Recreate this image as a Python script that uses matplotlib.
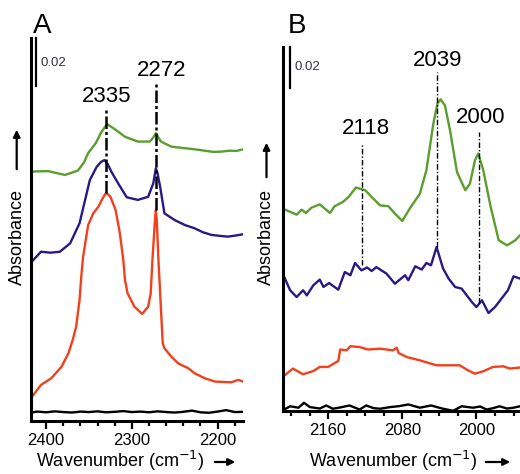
import numpy as np
import matplotlib
matplotlib.use('Agg')
import matplotlib.pyplot as plt
from matplotlib.ticker import MultipleLocator, NullLocator

plt.rcParams['font.family'] = ['Liberation Sans', 'DejaVu Sans']

# ---------------- panel A data (wavenumber, absorbance) ----------------
a_green_x = [2418, 2398, 2378, 2363, 2356, 2351, 2342, 2336, 2329, 2320, 2308, 2293, 2279, 2275, 2272,
             2269, 2266, 2254, 2240, 2227, 2215, 2205, 2196, 2186, 2178, 2170]
a_green_y = [0.1038, 0.1040, 0.1024, 0.1042, 0.1075, 0.1115, 0.1157, 0.1200, 0.1236, 0.1215, 0.1183,
             0.1163, 0.1163, 0.1180, 0.1198, 0.1180, 0.1163, 0.1142, 0.1136, 0.1131, 0.1125, 0.1120,
             0.1121, 0.1125, 0.1124, 0.1131]

a_blue_x = [2418, 2406, 2395, 2384, 2372, 2361, 2349, 2341, 2336, 2332, 2328, 2324, 2316, 2306, 2293,
            2281, 2275, 2272, 2270, 2267, 2262, 2250, 2238, 2227, 2217, 2207, 2197, 2188, 2178, 2170]
a_blue_y = [0.0658, 0.0704, 0.0700, 0.0704, 0.0739, 0.0823, 0.1003, 0.1058, 0.1078, 0.1086, 0.1068,
            0.1038, 0.0989, 0.0931, 0.0920, 0.0933, 0.0989, 0.1052, 0.1030, 0.0975, 0.0864, 0.0836,
            0.0815, 0.0802, 0.0785, 0.0774, 0.0770, 0.0767, 0.0772, 0.0777]

a_red_x = [2418, 2406, 2394, 2382, 2374, 2369, 2365, 2361, 2359, 2357, 2351, 2345, 2339, 2334, 2330,
           2325, 2319, 2314, 2310, 2308, 2305, 2297, 2288, 2281, 2278, 2276, 2273, 2272, 2271, 2269,
           2266, 2264, 2262, 2254, 2246, 2234, 2227, 2215, 2203, 2184, 2176, 2170]
a_red_y = [0.0093, 0.0149, 0.0177, 0.0225, 0.0281, 0.0336, 0.0392, 0.0503, 0.0600, 0.0680, 0.0815,
           0.0864, 0.0892, 0.0927, 0.0950, 0.0933, 0.0878, 0.0781, 0.0670, 0.0586, 0.0531, 0.0475,
           0.0445, 0.0475, 0.0531, 0.0670, 0.0840, 0.0878, 0.0840, 0.0670, 0.0461, 0.0323, 0.0302,
           0.0267, 0.0239, 0.0218, 0.0198, 0.0177, 0.0163, 0.0160, 0.0170, 0.0163]

a_black_x = [2418, 2410, 2400, 2390, 2380, 2370, 2360, 2350, 2340, 2330, 2320, 2310, 2300, 2290, 2280,
             2270, 2260, 2250, 2240, 2230, 2220, 2210, 2200, 2190, 2180, 2170]
a_black_y = [0.0034, 0.0038, 0.0035, 0.0039, 0.0036, 0.0034, 0.0038, 0.0036, 0.0039, 0.0035, 0.0037,
             0.0040, 0.0036, 0.0038, 0.0035, 0.0039, 0.0036, 0.0034, 0.0037, 0.0042, 0.0035, 0.0033,
             0.0038, 0.0044, 0.0036, 0.0037]

a_peak_pos = [2330, 2272]
a_peak_top = [0.1295, 0.1403]
a_peak_bot = [0.0950, 0.0878]
a_peak_text = ['2335', '2272']
a_text_x = [2330, 2265]
a_text_y = [0.1349, 0.1461]

# ---------------- panel B data ----------------
b_green_x = [2209, 2194, 2188.5, 2184, 2178, 2169, 2158, 2153, 2144, 2138, 2130, 2120, 2113, 2104, 2095,
             2088, 2080, 2072, 2061, 2054, 2046.5, 2042, 2038.6, 2034, 2028.5, 2021, 2012, 2007, 2001.6,
             1998, 1992.6, 1985, 1976, 1967, 1958, 1953]
b_green_y = [0.0987, 0.0958, 0.0982, 0.0966, 0.0992, 0.1008, 0.0966, 0.0999, 0.1020, 0.1044, 0.1090,
             0.1077, 0.1044, 0.1003, 0.0999, 0.0963, 0.0927, 0.0987, 0.1060, 0.1174, 0.1402, 0.1500,
             0.1520, 0.1491, 0.1369, 0.1166, 0.1077, 0.1109, 0.1223, 0.1256, 0.1174, 0.1003, 0.0833,
             0.0808, 0.0833, 0.0857]

b_blue_x = [2209, 2201, 2194, 2187, 2183, 2176, 2169, 2165, 2159, 2149, 2142, 2136, 2131, 2124, 2118,
            2113, 2108, 2097, 2088, 2077, 2073.5, 2066, 2059, 2054, 2049, 2043, 2036, 2030, 2023, 2016,
            2005, 2000, 1994, 1987, 1980, 1973, 1966, 1960, 1953]
b_blue_y = [0.0670, 0.0589, 0.0556, 0.0589, 0.0564, 0.0613, 0.0641, 0.0605, 0.0624, 0.0592, 0.0678,
            0.0662, 0.0722, 0.0686, 0.0700, 0.0683, 0.0702, 0.0670, 0.0621, 0.0662, 0.0638, 0.0706,
            0.0690, 0.0722, 0.0711, 0.0800, 0.0695, 0.0646, 0.0605, 0.0597, 0.0532, 0.0507, 0.0540,
            0.0478, 0.0507, 0.0548, 0.0589, 0.0657, 0.0646]

b_red_x = [2209, 2198, 2187, 2176, 2169, 2160, 2154, 2149, 2147, 2140, 2136, 2126, 2117, 2104, 2090,
           2086, 2084, 2075, 2061, 2043, 2018, 2010.5, 2001.6, 1992.6, 1982, 1971, 1964, 1953]
b_red_y = [0.0166, 0.0207, 0.0179, 0.0195, 0.0215, 0.0215, 0.0231, 0.0244, 0.0300, 0.0296, 0.0316,
           0.0312, 0.0300, 0.0304, 0.0296, 0.0309, 0.0283, 0.0263, 0.0247, 0.0223, 0.0223, 0.0202,
           0.0182, 0.0194, 0.0215, 0.0218, 0.0207, 0.0212]

b_black_x = [2209, 2201, 2192, 2186, 2179.6, 2169, 2162, 2155, 2146, 2137, 2126, 2119, 2111, 2104, 2093,
             2083, 2073.5, 2061, 2049, 2036, 2025, 2016, 2003.6, 1996, 1989, 1982, 1975, 1967, 1960, 1953]
b_black_y = [0.0003, 0.0023, 0.0016, 0.0040, 0.0019, 0.0012, 0.0027, 0.0011, 0.0018, 0.0027, 0.0007,
             0.0027, 0.0014, 0.0011, 0.0019, 0.0024, 0.0032, 0.0016, 0.0027, 0.0011, 0.0001, 0.0023,
             0.0016, 0.0022, 0.0007, 0.0014, 0.0023, 0.0012, 0.0016, 0.0023]

b_peak_pos = [2123, 2043, 1997.4]
b_peak_top = [0.1304, 0.1654, 0.1361]
b_peak_bot = [0.0711, 0.0800, 0.0525]
b_peak_text = ['2118', '2039', '2000']
b_text_x = [2119, 2042, 1996]
b_text_y = [0.1379, 0.1711, 0.1434]

green = '#5a9e2f'
blue = '#2b1887'
red = '#f2401c'

W, H = 520, 474
fig = plt.figure(figsize=(W / 100, H / 100), dpi=100)


def fx(px):
    return px / W


def fy(py):
    return 1 - py / H


def style_axes(ax):
    for s in ['top', 'right']:
        ax.spines[s].set_visible(False)
    for s in ['left', 'bottom']:
        ax.spines[s].set_linewidth(2.2)
    ax.yaxis.set_major_locator(NullLocator())
    ax.tick_params(axis='x', which='major', direction='out', length=6, width=1.6,
                   labelsize=12, pad=2.5)
    ax.tick_params(axis='x', which='minor', direction='out', length=3.8, width=1.6)


# panel A
axA = fig.add_axes([fx(30.7), fy(420.7), fx(243.3 - 30.7), (420.7 - 38) / H])
axA.set_xlim(2418, 2170)
axA.set_ylim(0, (420.7 - 38) / 2400)
style_axes(axA)
axA.xaxis.set_major_locator(MultipleLocator(100))
axA.xaxis.set_minor_locator(MultipleLocator(20))
axA.plot(a_green_x, a_green_y, color=green, lw=1.7)
axA.plot(a_blue_x, a_blue_y, color=blue, lw=1.7)
axA.plot(a_red_x, a_red_y, color=red, lw=1.7)
axA.plot(a_black_x, a_black_y, color='black', lw=1.7)
for p, t, b in zip(a_peak_pos, a_peak_top, a_peak_bot):
    axA.plot([p, p], [b, t], color='black', lw=1.8, ls=(0, (5, 1.2, 1.2, 1.2)))
for tx, ty, s in zip(a_text_x, a_text_y, a_peak_text):
    axA.text(tx, ty, s, ha='center', va='center', fontsize=16)
axA.plot([2412, 2412], [0.1395, 0.1595], color='black', lw=1.6, clip_on=False)
axA.text(2407, 0.149, '0.02', fontsize=9.5, color='#333340', va='center', ha='left')

# panel B
axB = fig.add_axes([fx(282.7), fy(411), fx(520 - 282.7), (411 - 46.7) / H])
axB.set_xlim(2209, 1953)
axB.set_ylim(0, (411 - 46.7) / 2050)
style_axes(axB)
axB.xaxis.set_major_locator(MultipleLocator(80))
axB.xaxis.set_minor_locator(MultipleLocator(20))
axB.plot(b_green_x, b_green_y, color=green, lw=1.7)
axB.plot(b_blue_x, b_blue_y, color=blue, lw=1.7)
axB.plot(b_red_x, b_red_y, color=red, lw=1.7)
axB.plot(b_black_x, b_black_y, color='black', lw=1.7)
for p, t, b in zip(b_peak_pos, b_peak_top, b_peak_bot):
    axB.plot([p, p], [b, t], color='black', lw=1.0, ls=(0, (4, 1.5, 1, 1.5)))
for tx, ty, s in zip(b_text_x, b_text_y, b_peak_text):
    axB.text(tx, ty, s, ha='center', va='center', fontsize=16)
axB.plot([2201, 2201], [0.1577, 0.1777], color='black', lw=1.6, clip_on=False)
axB.text(2196, 0.1677, '0.02', fontsize=9.5, color='#333340', va='center', ha='left')

# panel letters
fig.text(fx(33), fy(33), 'A', fontsize=20, ha='left', va='baseline')
fig.text(fx(288), fy(33), 'B', fontsize=20, ha='left', va='baseline')

# axis titles with arrows
for cx, ax_x, top, bot in [(17, 16.7, 127, 172), (266, 266.5, 140, 180)]:
    fig.text(fx(cx), fy(237), 'Absorbance', rotation=90, ha='center', va='center', fontsize=13)
    fig.add_artist(matplotlib.patches.FancyArrowPatch(
        (fx(ax_x), fy(bot)), (fx(ax_x), fy(top)), transform=fig.transFigure,
        arrowstyle='-|>', mutation_scale=10, lw=1.6, color='black'))

for cx, y, x0, x1 in [(120.5, 461, 212, 238), (393.5, 461, 483, 513)]:
    fig.text(fx(cx), fy(y), 'Wavenumber (cm$^{-1}$)', ha='center', va='center', fontsize=13)
    fig.add_artist(matplotlib.patches.FancyArrowPatch(
        (fx(x0), fy(y + 1)), (fx(x1), fy(y + 1)), transform=fig.transFigure,
        arrowstyle='-|>', mutation_scale=10, lw=1.6, color='black'))

fig.savefig('out.png', dpi=100)
